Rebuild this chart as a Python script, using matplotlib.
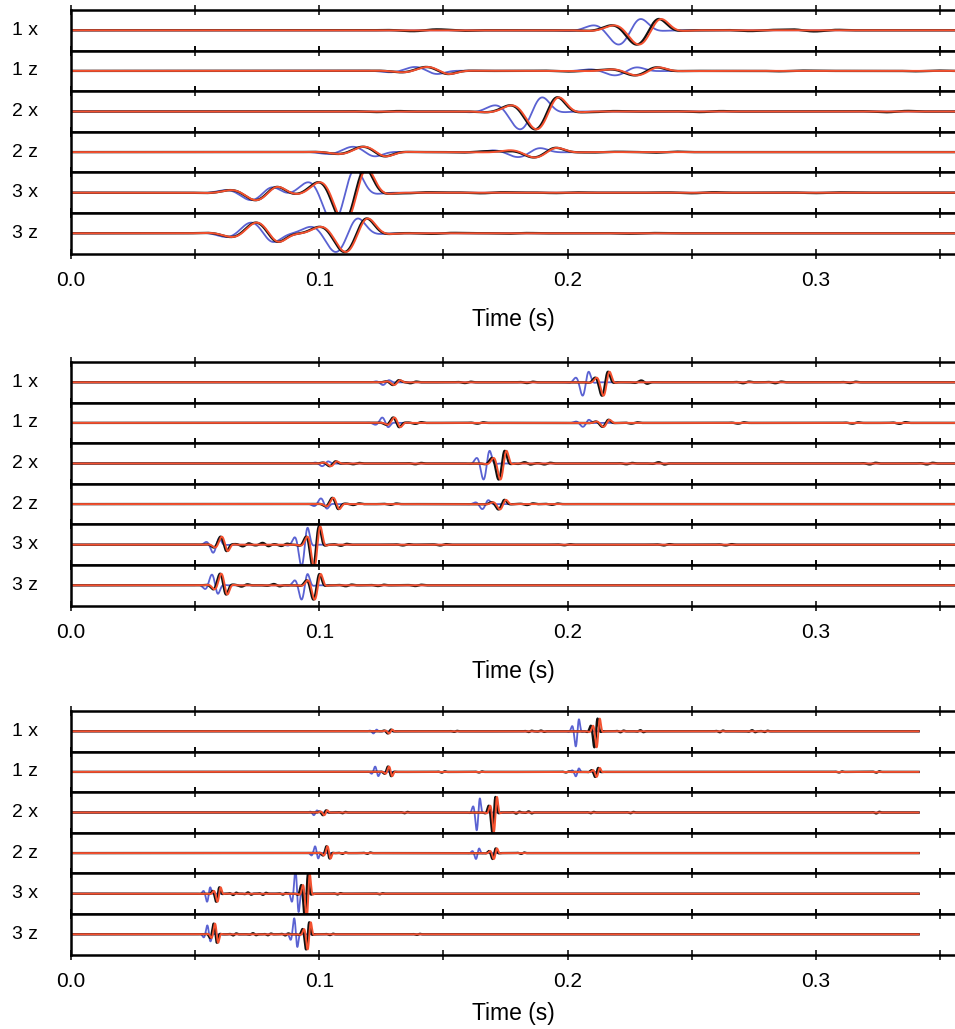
import numpy as np
import matplotlib.pyplot as plt
from matplotlib.ticker import MultipleLocator, FormatStrFormatter

plt.rcParams["font.family"] = ["Liberation Sans", "DejaVu Sans"]

BLUE = "#5a62d2"
BLACK = "#111111"
RED = "#f4512f"

TRACE_LABELS = ["1 x", "1 z", "2 x", "2 z", "3 x", "3 z"]
PANEL_FREQ = [45.0, 165.0, 315.0]      # dominant frequency of each band (Hz)
TRACE_END = [0.36, 0.36, 0.3414]       # last sample time (s)

# events per trace: (centre time s, amplitude in strip half-heights)
BLUE_1 = [[(0.2255, 0.8)],
          [(0.1435, -0.22), (0.224, 0.25)],
          [(0.1858, 1.0)],
          [(0.1185, -0.3), (0.185, 0.28)],
          [(0.0775, 0.42), (0.1105, 1.7)],
          [(0.0775, -0.6), (0.1116, 1.05)]]
BLACK_1 = [[(0.2328, 0.8)],
           [(0.148, -0.22), (0.232, 0.25)],
           [(0.1919, 1.0)],
           [(0.1225, -0.3), (0.1913, 0.3)],
           [(0.0792, 0.42), (0.1146, 1.7)],
           [(0.0794, -0.6), (0.1151, 1.05)]]
RED_1 = [[(0.2337, 0.8)],
         [(0.1485, -0.22), (0.2328, 0.25)],
         [(0.1925, 1.0)],
         [(0.123, -0.3), (0.1918, 0.3)],
         [(0.0795, 0.42), (0.1152, 1.7)],
         [(0.0798, -0.6), (0.1156, 1.05)]]
NOISE_1 = [[(0.142, 0.04), (0.155, -0.03), (0.278, 0.04), (0.295, -0.04), (0.305, 0.03)],
           [(0.205, 0.03), (0.29, 0.02), (0.345, 0.02)],
           [(0.128, 0.03), (0.215, 0.03), (0.258, 0.03), (0.333, 0.04)],
           [(0.172, -0.06), (0.215, 0.02), (0.24, 0.03)],
           [(0.14, 0.03), (0.17, 0.03), (0.2, 0.02), (0.255, 0.03), (0.305, 0.02)],
           [(0.15, 0.03), (0.18, 0.02), (0.23, 0.02)]]

BLUE_2 = [[(0.127, 0.15), (0.2074, 0.75)],
          [(0.1267, -0.3), (0.2075, 0.22)],
          [(0.1025, 0.15), (0.1675, 0.9)],
          [(0.102, -0.32), (0.167, 0.28)],
          [(0.0586, 0.45), (0.0942, 1.2)],
          [(0.0581, -0.6), (0.0942, 0.8)]]
BLACK_2 = [[(0.131, 0.15), (0.2152, 0.75)],
           [(0.1311, -0.3), (0.2154, 0.22)],
           [(0.1055, 0.15), (0.1736, 0.9)],
           [(0.1066, -0.35), (0.1735, 0.3)],
           [(0.0616, -0.45), (0.0988, 1.3)],
           [(0.0614, -0.65), (0.099, 0.8)]]
RED_2 = [[(0.1315, 0.15), (0.2158, 0.75)],
         [(0.1316, -0.3), (0.2158, 0.22)],
         [(0.106, 0.15), (0.1743, 0.9)],
         [(0.107, -0.35), (0.1741, 0.3)],
         [(0.0621, -0.45), (0.0993, 1.3)],
         [(0.0619, -0.65), (0.0995, 0.8)]]
NOISE_2 = [[(0.138, 0.05), (0.16, 0.04), (0.185, 0.04), (0.231, -0.1), (0.272, 0.05),
            (0.285, 0.05), (0.315, 0.04)],
           [(0.14, 0.05), (0.165, 0.04), (0.227, 0.04), (0.27, 0.04), (0.316, 0.04), (0.335, 0.05)],
           [(0.115, 0.04), (0.14, 0.04), (0.184, -0.07), (0.192, 0.05), (0.225, 0.04),
            (0.238, -0.07), (0.323, 0.05), (0.346, 0.05)],
           [(0.115, 0.05), (0.13, 0.04), (0.185, 0.05), (0.195, 0.04)],
           [(0.0705, 0.09), (0.0785, -0.1), (0.086, 0.07), (0.11, 0.06), (0.135, 0.04),
            (0.15, 0.04), (0.2, 0.03), (0.24, 0.04), (0.265, 0.04)],
           [(0.07, 0.07), (0.083, -0.07), (0.112, 0.05), (0.125, 0.04), (0.14, 0.04)]]

BLUE_3 = [[(0.1225, 0.12), (0.204, 0.85)],
          [(0.1232, -0.3), (0.204, 0.25)],
          [(0.0985, 0.15), (0.1641, 1.0)],
          [(0.099, -0.38), (0.1638, 0.33)],
          [(0.0555, 0.45), (0.0911, -1.3)],
          [(0.0556, -0.5), (0.0906, -0.9)]]
BLACK_3 = [[(0.1283, 0.12), (0.2115, 0.9)],
           [(0.1284, -0.3), (0.2118, 0.28)],
           [(0.1022, 0.15), (0.1704, 1.1)],
           [(0.1036, -0.38), (0.1705, 0.33)],
           [(0.0592, 0.45), (0.0949, 1.4)],
           [(0.0582, -0.6), (0.0954, 0.85)]]
RED_3 = [[(0.1288, 0.12), (0.2124, 0.9)],
         [(0.1288, -0.3), (0.2124, 0.28)],
         [(0.1027, 0.15), (0.171, 1.1)],
         [(0.104, -0.38), (0.171, 0.33)],
         [(0.0597, 0.45), (0.0956, 1.4)],
         [(0.0587, -0.6), (0.096, 0.85)]]
NOISE_3 = [[(0.155, 0.03), (0.185, 0.04), (0.19, -0.04), (0.222, 0.05), (0.23, -0.06),
            (0.262, 0.05), (0.275, -0.06), (0.28, 0.04)],
           [(0.15, 0.04), (0.165, 0.03), (0.2, 0.03), (0.31, 0.03), (0.325, 0.04)],
           [(0.11, 0.04), (0.135, 0.04), (0.18, 0.06), (0.185, -0.06), (0.21, 0.04),
            (0.226, 0.04), (0.325, 0.05)],
           [(0.11, 0.04), (0.12, 0.04), (0.182, 0.04)],
           [(0.066, 0.07), (0.072, -0.07), (0.078, 0.06), (0.086, 0.05), (0.108, 0.04), (0.125, 0.03)],
           [(0.066, 0.06), (0.074, -0.06), (0.08, 0.05), (0.087, 0.06), (0.105, 0.04), (0.14, 0.03)]]

PANELS = [(BLUE_1, BLACK_1, RED_1, NOISE_1),
          (BLUE_2, BLACK_2, RED_2, NOISE_2),
          (BLUE_3, BLACK_3, RED_3, NOISE_3)]


def trace(t, events, f):
    # sum of skewed Gabor wavelets, one per listed arrival
    out = np.zeros_like(t)
    period = 1.0 / f
    for tc, amp in events:
        tau = t - tc
        sig = np.where(tau < 0, 0.65 * period, 0.35 * period)
        out += amp * np.sin(2 * np.pi * f * tau) * np.exp(-(tau / sig) ** 2)
    return out


def main() -> None:
    W, H = 955, 1029
    fig = plt.figure(figsize=(W / 100, H / 100), dpi=100)

    panel_top = [10, 362, 711]
    label_pad = [13, 13, 8]
    strip = 40.6
    left = 71 / W
    xmax = (W - 71) / 2483.0

    for p, (blue, black, red, noise) in enumerate(PANELS):
        f = PANEL_FREQ[p]
        t = np.arange(0.0, TRACE_END[p], 0.00004)
        for i in range(6):
            top = panel_top[p] + i * strip
            ax = fig.add_axes([left, 1 - (top + strip) / H, 1 - left, strip / H])
            ax.plot(t, trace(t, blue[i], f), color=BLUE, lw=1.3)
            ax.plot(t, trace(t, black[i] + noise[i], f), color=BLACK, lw=1.7)
            ax.plot(t, trace(t, red[i], f), color=RED, lw=1.4)

            ax.set_xlim(0, xmax)
            ax.set_ylim(-1, 1)
            ax.set_yticks([])
            ax.spines["right"].set_visible(False)
            for s in ("left", "top", "bottom"):
                ax.spines[s].set_linewidth(1.8)
                ax.spines[s].set_color("black")
            ax.xaxis.set_major_locator(MultipleLocator(0.1))
            ax.xaxis.set_minor_locator(MultipleLocator(0.05))
            ax.xaxis.set_major_formatter(FormatStrFormatter("%.1f"))
            ax.tick_params(axis="x", which="both", direction="inout", length=7,
                           width=1.1, top=True, bottom=True, labelsize=15,
                           pad=9, labelbottom=(i == 5))
            ax.text(-0.037, 0.5, TRACE_LABELS[i], transform=ax.transAxes,
                    ha="right", va="center", fontsize=14)
            if i == 5:
                ax.set_xlabel("Time (s)", fontsize=16.5, labelpad=label_pad[p])

    fig.savefig("out.png", dpi=100)
    plt.close(fig)


if __name__ == "__main__":
    main()
